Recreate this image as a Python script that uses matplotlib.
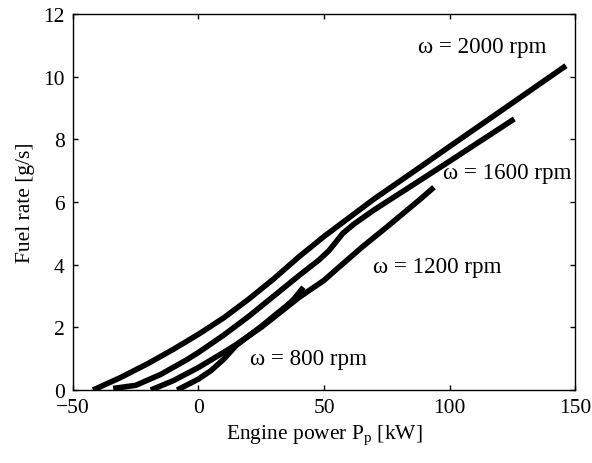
import numpy as np
import matplotlib
matplotlib.use('Agg')
import matplotlib.pyplot as plt

plt.rcParams['font.family'] = ['Liberation Serif', 'DejaVu Serif']
plt.rcParams['mathtext.fontset'] = 'custom'
plt.rcParams['mathtext.rm'] = 'Liberation Serif'
plt.rcParams['mathtext.it'] = 'Liberation Serif:italic'

# engine power [kW] and fuel rate [g/s] for each engine speed
p_2000 = [-42, -31, -20, -10, 0, 10, 20, 30, 40, 50, 60, 70, 85, 100, 120, 146.4]
f_2000 = [0, 0.4, 0.85, 1.3, 1.78, 2.3, 2.9, 3.55, 4.25, 4.9, 5.5, 6.1, 6.93, 7.77, 8.88, 10.35]

p_1600 = [-34, -25, -15, -5, 0, 10, 20, 30, 40, 48, 52, 57.5, 62, 70, 83, 100, 125.8]
f_1600 = [0.05, 0.15, 0.5, 0.95, 1.2, 1.75, 2.35, 3.0, 3.65, 4.15, 4.45, 5.0, 5.3, 5.75, 6.42, 7.3, 8.65]

p_1200 = [-19, -10, 0, 10, 15, 25, 40, 50, 56.4, 65, 75, 88.5, 93.8]
f_1200 = [0, 0.3, 0.72, 1.2, 1.45, 2.0, 2.95, 3.5, 3.95, 4.55, 5.2, 6.1, 6.47]

p_800 = [-8.5, 0, 5, 10, 15, 20, 25, 30, 35, 38, 41.8]
f_800 = [0, 0.35, 0.62, 0.98, 1.42, 1.73, 2.03, 2.36, 2.68, 2.9, 3.28]

labels = ['\u03c9 = 2000 rpm', '\u03c9 = 1600 rpm', '\u03c9 = 1200 rpm', '\u03c9 = 800 rpm']
label_pos = [(87.5, 10.97), (97.5, 6.95), (69.5, 3.95), (20.5, 1.0)]

fig = plt.figure(figsize=(5.92, 4.64), dpi=100)
ax = fig.add_axes([0.1233, 0.1573, 0.848, 0.8104])

for p, f in [(p_2000, f_2000), (p_1600, f_1600), (p_1200, f_1200), (p_800, f_800)]:
    ax.plot(p, f, color='black', linewidth=4, solid_capstyle='butt')

for txt, (x, y) in zip(labels, label_pos):
    ax.text(x, y, txt, fontsize=16.6, va='center', ha='left')

ax.set_xlim(-50, 150)
ax.set_ylim(0, 12)
ax.set_xticks([-50, 0, 50, 100, 150])
ax.set_yticks([0, 2, 4, 6, 8, 10, 12])
ax.tick_params(direction='in', top=True, right=True, length=3.6, width=1, labelsize=15.5, pad=6)
for s in ax.spines.values():
    s.set_linewidth(1)
ax.set_xlabel(r'Engine power P$_\mathrm{p}$ [kW]', fontsize=15.5, labelpad=4)
ax.set_ylabel('Fuel rate [g/s]', fontsize=15.5, labelpad=6)

fig.savefig('out.png', dpi=100)
